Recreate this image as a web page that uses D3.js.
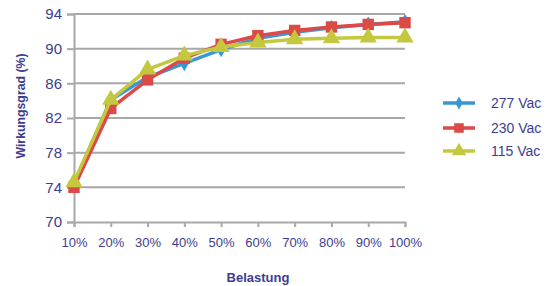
<!DOCTYPE html>
<html><head><meta charset="utf-8">
<script src="https://cdn.jsdelivr.net/npm/d3@7"></script>
<style>body{margin:0;background:#fff}svg{display:block;font-family:"Liberation Sans",Arial,sans-serif}</style>
</head><body><svg id="c" width="558" height="286"></svg>
<script>
const categories = ["10%","20%","30%","40%","50%","60%","70%","80%","90%","100%"];
const seriesNames = ["277 Vac","230 Vac","115 Vac"];
const v277 = [74.4,84.1,86.7,88.3,89.9,91.2,91.9,92.4,92.8,93.1];
const v230 = [74.0,83.1,86.4,88.9,90.5,91.5,92.1,92.5,92.8,93.0];
const v115 = [74.6,84.1,87.6,89.2,90.2,90.7,91.1,91.2,91.3,91.3];
const yTicks = [70,74,78,82,86,90,94];
const colors = ["#3a97d6","#dc4a48","#c3c83e"];
const symbols = [d3.symbolDiamond, d3.symbolSquare, d3.symbolTriangle];
const symSizes = [70,130,130];

const svg = d3.select("#c");
const x = d3.scalePoint().domain(categories).range([74,405]);
const y = d3.scaleLinear().domain([70,94]).range([222,14]);
const txt = "#3d3d8f";

// gridlines
svg.append("g").selectAll("line").data(yTicks.filter(t=>t>70)).join("line")
  .attr("x1",74).attr("x2",405).attr("y1",d=>y(d)).attr("y2",d=>y(d))
  .attr("stroke","#a8a8a8").attr("stroke-width",2);

// y axis
const ya = svg.append("g").attr("transform","translate(74,0)")
  .call(d3.axisLeft(y).tickValues(yTicks).tickSize(7).tickPadding(5));
ya.select(".domain").attr("stroke","#a8a8a8").attr("stroke-width",2);
ya.selectAll(".tick line").attr("stroke","#a8a8a8").attr("stroke-width",2);
ya.selectAll("text").attr("fill",txt).attr("font-size",15).attr("font-family","Liberation Sans, Arial");

// x axis
const xa = svg.append("g").attr("transform","translate(0,222)")
  .call(d3.axisBottom(x).tickSize(5).tickPadding(11));
xa.select(".domain").attr("stroke","#a8a8a8").attr("stroke-width",2);
xa.selectAll(".tick line").attr("stroke","#a8a8a8").attr("stroke-width",2);
xa.selectAll("text").attr("fill",txt).attr("font-size",13).attr("font-family","Liberation Sans, Arial");

// axis titles
svg.append("text").attr("transform","translate(25,106) rotate(-90)").attr("text-anchor","middle")
  .attr("fill",txt).attr("font-size",12.3).attr("font-weight","bold").text("Wirkungsgrad (%)");
svg.append("text").attr("x",258).attr("y",282).attr("text-anchor","middle")
  .attr("fill",txt).attr("font-size",13).attr("font-weight","bold").text("Belastung");

const data = [v277, v230, v115];
const line = d3.line().x((d,i)=>x(categories[i])).y(d=>y(d));
data.forEach((vals,si)=>{
  const g = svg.append("g");
  g.append("path").datum(vals).attr("d",line).attr("fill","none")
    .attr("stroke",colors[si]).attr("stroke-width",3.5).attr("stroke-linejoin","round");
  g.selectAll("path.m").data(vals).join("path").attr("class","m")
    .attr("transform",(d,i)=>`translate(${x(categories[i])},${y(d)})`)
    .attr("d",d3.symbol().type(symbols[si]).size(symSizes[si])).attr("fill",colors[si]);
});

// legend
const leg = svg.append("g");
const ly = [103,128,151];
seriesNames.forEach((n,i)=>{
  leg.append("line").attr("x1",443).attr("x2",475).attr("y1",ly[i]).attr("y2",ly[i])
    .attr("stroke",colors[i]).attr("stroke-width",3.5);
  leg.append("path").attr("transform",`translate(459,${ly[i]})`)
    .attr("d",d3.symbol().type(symbols[i]).size(symSizes[i]*0.7)).attr("fill",colors[i]);
  leg.append("text").attr("x",491).attr("y",ly[i]+5).attr("fill",txt).attr("font-size",14).text(n);
});
</script></body></html>
